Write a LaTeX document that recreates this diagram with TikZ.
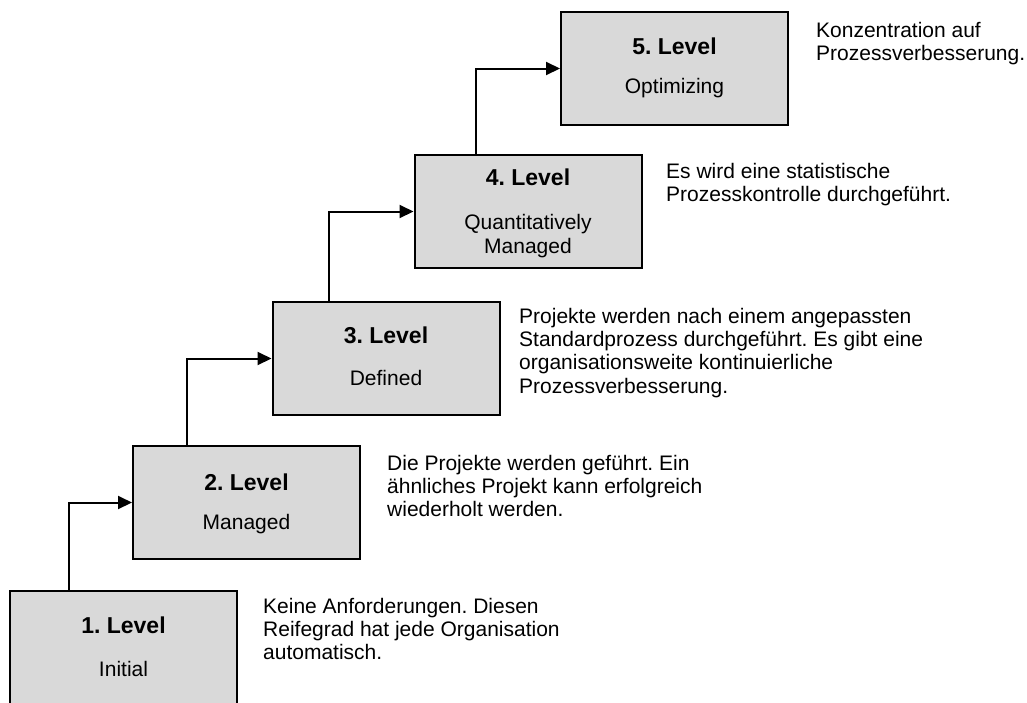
\documentclass[tikz,border=0pt]{standalone}
\usepackage{fontspec}
\setmainfont{Liberation Sans}
\usetikzlibrary{calc,arrows.meta}
\definecolor{boxgray}{RGB}{217,217,217}
\frenchspacing

\begin{document}
\begin{tikzpicture}[x=1pt,y=-1pt,
  level/.style={draw=black, line width=2pt, fill=boxgray,
    minimum width=227pt, minimum height=113pt, inner sep=0pt},
  ttl/.style={anchor=base, inner sep=0pt, font=\fontsize{23}{27}\selectfont\bfseries},
  sub/.style={anchor=base, inner sep=0pt, font=\fontsize{21}{23.3}\selectfont},
  desc/.style={anchor=north west, align=left, inner sep=0pt,
    font=\fontsize{21}{23.3}\selectfont},
  link/.style={line width=2pt, -{Triangle[length=14pt,width=13pt]}}]

\useasboundingbox (0,0) rectangle (1027,702);

% maturity levels
\node[level, minimum height=117pt] (b1) at (123.5,649.5) {};
\node[level] (b2) at (246.5,502.5) {};
\node[level] (b3) at (386,358.5) {};
\node[level] (b4) at (528,211.5) {};
\node[level] (b5) at (674.5,68.5) {};

% titles and names of the levels
\node[ttl] (t1) at ($(b1.north)+(0,43)$) {1. Level};
\node[sub] (s1) at ($(b1.north)+(0,86)$) {Initial};
\node[ttl] (t2) at ($(b2.north)+(0,45.5)$) {2. Level};
\node[sub] (s2) at ($(b2.north)+(0,84.5)$) {Managed};
\node[ttl] (t3) at ($(b3.north)+(0,42)$) {3. Level};
\node[sub] (s3) at ($(b3.north)+(0,84.5)$) {Defined};
\node[ttl] (t4) at ($(b4.north)+(0,31.5)$) {4. Level};
\node[sub] (s4a) at ($(b4.north)+(0,75.5)$) {Quantitatively};
\node[sub] (s4b) at ($(b4.north)+(0,99)$) {Managed};
\node[ttl] (t5) at ($(b5.north)+(0,43)$) {5. Level};
\node[sub] (s5) at ($(b5.north)+(0,82)$) {Optimizing};

% steps up the staircase
\draw[link] ($(b1.north west)+(60,0)$) |- (b2.west);
\draw[link] ($(b2.north west)+(55,0)$) |- (b3.west);
\draw[link] ($(b3.north west)+(57,0)$) |- (b4.west);
\draw[link] ($(b4.north west)+(62,0)$) |- (b5.west);

% descriptions (top edge of the first line)
\node[desc] (d1) at (263,597.8) {Keine Anforderungen. Diesen\\Reifegrad hat jede Organisation\\automatisch.};
\node[desc] (d2) at (387,454.8) {Die Projekte werden geführt. Ein\\ähnliches Projekt kann erfolgreich\\wiederholt werden.};
\node[desc] (d3) at (519,307.8) {Projekte werden nach einem angepassten\\Standardprozess durchgeführt. Es gibt eine\\organisationsweite kontinuierliche\\Prozessverbesserung.};
\node[desc] (d4) at (666,162.8) {Es wird eine statistische\\Prozesskontrolle durchgeführt.};
\node[desc] (d5) at (816,21.8) {Konzentration auf\\Prozessverbesserung.};
\end{tikzpicture}
\end{document}
